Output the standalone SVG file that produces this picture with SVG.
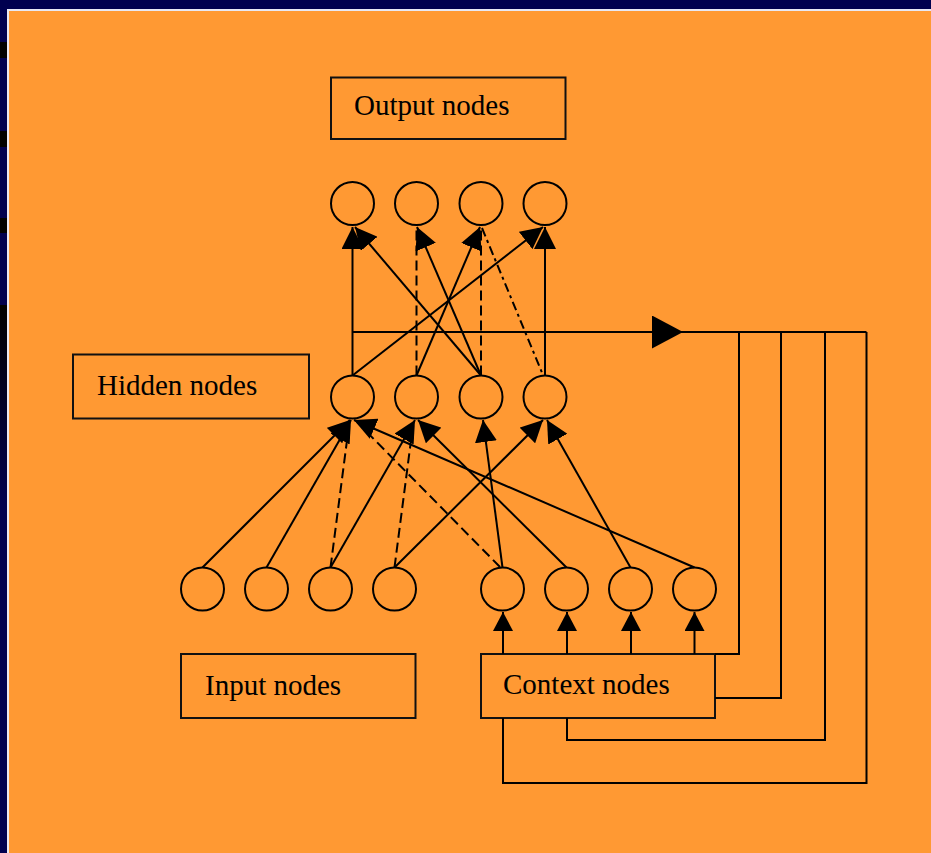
<svg xmlns="http://www.w3.org/2000/svg" width="931" height="853" viewBox="0 0 931 853">
  <defs>
    <linearGradient id="fade" x1="0" y1="0" x2="0" y2="1">
      <stop offset="0" stop-color="#000000"/>
      <stop offset="1" stop-color="#00004F"/>
    </linearGradient>
    <marker id="arr" markerUnits="userSpaceOnUse" markerWidth="23" markerHeight="22" refX="22" refY="11" orient="auto">
      <path d="M0,0 L22,11 L0,22 Z" fill="#000"/>
    </marker>
    <marker id="arrS" markerUnits="userSpaceOnUse" markerWidth="20" markerHeight="20" refX="19" refY="10" orient="auto">
      <path d="M0,0 L19,10 L0,20 Z" fill="#000"/>
    </marker>
    <marker id="big" markerUnits="userSpaceOnUse" markerWidth="32" markerHeight="34" refX="31" refY="16.5" orient="auto">
      <path d="M0,0 L31,16.5 L0,33 Z" fill="#000"/>
    </marker>
  </defs>
  <style>
    .node { fill: none; stroke: #000; stroke-width: 2; }
    .box { fill: none; stroke: #111; stroke-width: 2; }
    .lbl { font-family: "Liberation Serif", "Times New Roman", serif; font-size: 29px; fill: #000; }
    .ln { fill: none; stroke: #000; stroke-width: 2; }
    .a { marker-end: url(#arr); }
    .as { marker-end: url(#arrS); }
    .dash { stroke-dasharray: 10 5; }
    .dashdot { stroke-dasharray: 9 4 3 4; }
  </style>

  <!-- background -->
  <rect x="0" y="0" width="931" height="853" fill="#00004F"/>
  <rect x="0" y="42" width="8" height="16" fill="#000"/>
  <rect x="0" y="131" width="8" height="16" fill="#000"/>
  <rect x="0" y="218" width="8" height="15" fill="#000"/>
  <rect x="0" y="305" width="8" height="200" fill="url(#fade)"/>
  <rect x="7" y="9" width="924" height="844" fill="#E8E8F4"/>
  <rect x="9" y="11" width="922" height="842" fill="#FF9933"/>

  <!-- label boxes -->
  <g id="output-label">
    <rect class="box" x="331" y="77.5" width="234.5" height="61.5"/>
    <text class="lbl" x="354" y="115">Output nodes</text>
  </g>
  <g id="hidden-label">
    <rect class="box" x="73" y="354.5" width="236" height="64"/>
    <text class="lbl" x="97" y="395">Hidden nodes</text>
  </g>
  <g id="input-label">
    <rect class="box" x="181" y="654" width="234.5" height="64"/>
    <text class="lbl" x="205" y="695">Input nodes</text>
  </g>
  <g id="context-label">
    <rect class="box" x="481" y="654" width="234" height="64"/>
    <text class="lbl" x="503" y="694">Context nodes</text>
  </g>

  <!-- output nodes -->
  <g id="out1"><circle class="node" cx="352.5" cy="203.5" r="21.5"/></g>
  <g id="out2"><circle class="node" cx="416.5" cy="203.5" r="21.5"/></g>
  <g id="out3"><circle class="node" cx="481" cy="203.5" r="21.5"/></g>
  <g id="out4"><circle class="node" cx="545" cy="203.5" r="21.5"/></g>

  <!-- hidden nodes -->
  <g id="hid1"><circle class="node" cx="352.5" cy="397" r="21.5"/></g>
  <g id="hid2"><circle class="node" cx="416.5" cy="397" r="21.5"/></g>
  <g id="hid3"><circle class="node" cx="481" cy="397" r="21.5"/></g>
  <g id="hid4"><circle class="node" cx="545" cy="397" r="21.5"/></g>

  <!-- input nodes -->
  <g id="in1"><circle class="node" cx="202.5" cy="589" r="21.5"/></g>
  <g id="in2"><circle class="node" cx="266.5" cy="589" r="21.5"/></g>
  <g id="in3"><circle class="node" cx="330.5" cy="589" r="21.5"/></g>
  <g id="in4"><circle class="node" cx="394.5" cy="589" r="21.5"/></g>

  <!-- context nodes -->
  <g id="ctx1"><circle class="node" cx="502.5" cy="589" r="21.5"/></g>
  <g id="ctx2"><circle class="node" cx="566.5" cy="589" r="21.5"/></g>
  <g id="ctx3"><circle class="node" cx="630.5" cy="589" r="21.5"/></g>
  <g id="ctx4"><circle class="node" cx="694.5" cy="589" r="21.5"/></g>

  <!-- connectors -->
  <g id="connectors">
    <!-- hidden to output -->
    <path class="ln a" d="M352.5,375.5 L352.5,227"/>
    <path class="ln a" d="M545,375.5 L545,227"/>
    <path class="ln a" d="M481,375.5 L355,227"/>
    <path class="ln a" d="M481,375.5 L417,227"/>
    <path class="ln a" d="M416.5,375.5 L480,227"/>
    <path class="ln a" d="M352.5,375.5 L543,227"/>
    <path class="ln dash" d="M416.5,375.5 L416.5,228"/>
    <path class="ln dash" d="M481,375.5 L481,228"/>
    <path class="ln dashdot" d="M482,228 L543,375"/>

    <!-- input/context to hidden -->
    <path class="ln a" d="M202.5,567.5 L350,420"/>
    <path class="ln a" d="M266.5,567.5 L351,420"/>
    <path class="ln a" d="M330.5,567.5 L415,420"/>
    <path class="ln a" d="M394.5,567.5 L543,420"/>
    <path class="ln a" d="M502.5,567.5 L483,420"/>
    <path class="ln a" d="M566.5,567.5 L418,420"/>
    <path class="ln a" d="M630.5,567.5 L547,420"/>
    <path class="ln a" d="M694.5,567.5 L354,420"/>
    <path class="ln dash" d="M330.5,567.5 L349,425"/>
    <path class="ln dash" d="M394.5,567.5 L413,425"/>
    <path class="ln dash" d="M500,567 L357,422"/>

    <!-- copy line from hidden layer to context -->
    <path class="ln" d="M352.5,332 L683,332" marker-end="url(#big)"/>
    <path class="ln" d="M683,332 L866.5,332"/>
    <path class="ln" d="M739,332 V654 H715"/>
    <path class="ln" d="M781,332 V698 H715"/>
    <path class="ln" d="M825,332 V740 H567 V718"/>
    <path class="ln" d="M866.5,332 V783 H503 V718"/>

    <!-- context box to context nodes -->
    <path class="ln as" d="M503,654 L503,612"/>
    <path class="ln as" d="M567,654 L567,612"/>
    <path class="ln as" d="M631,654 L631,612"/>
    <path class="ln as" d="M694.5,654 L694.5,612"/>
  </g>
</svg>
